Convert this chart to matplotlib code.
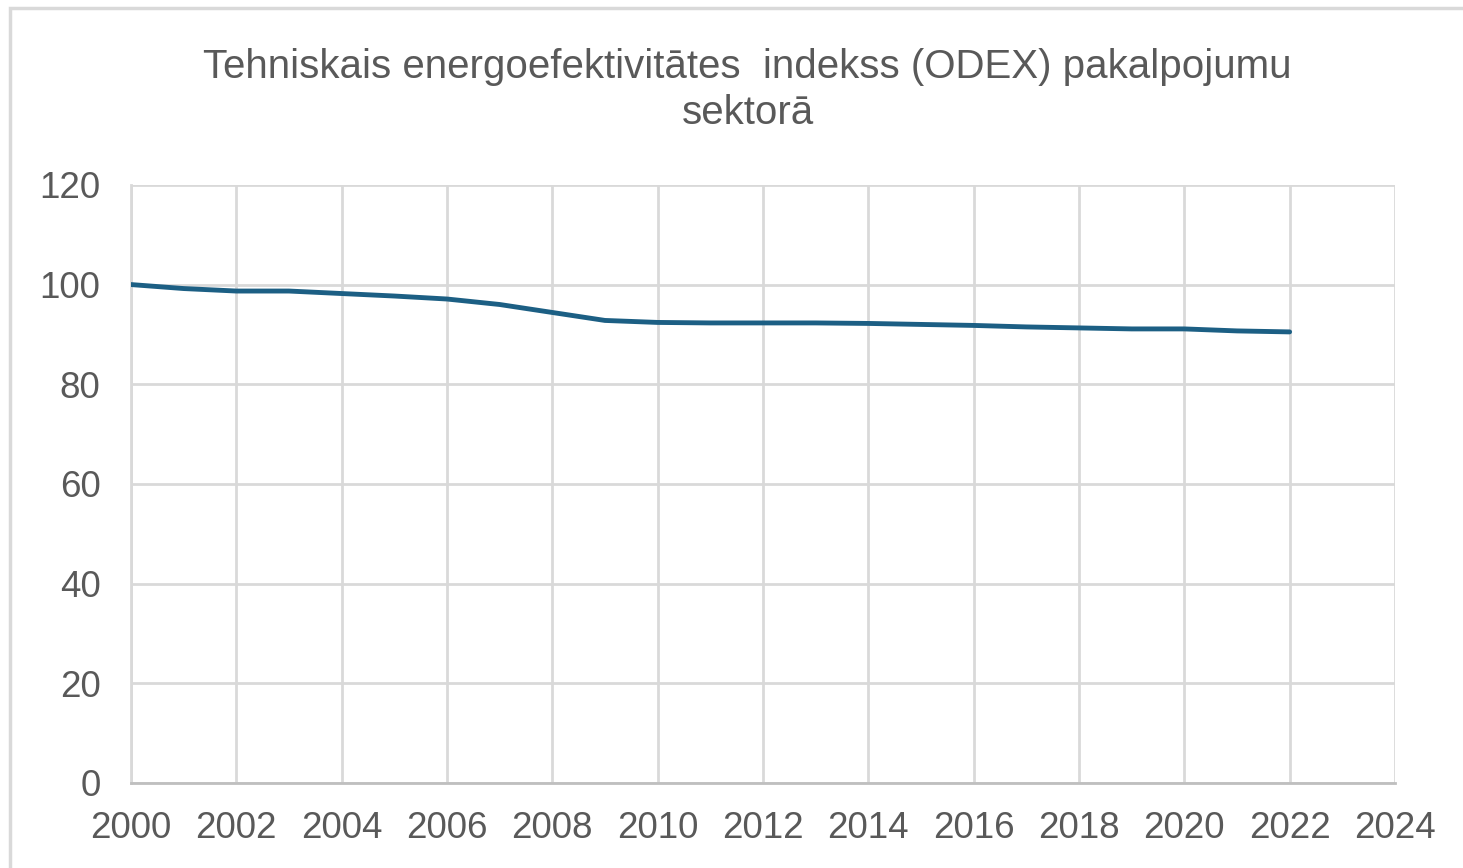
import matplotlib
matplotlib.use("Agg")
import matplotlib.pyplot as plt
from matplotlib.patches import Rectangle

plt.rcParams['font.family'] = ['Liberation Sans', 'DejaVu Sans']

# ODEX index, services sector (2000 = 100)
years = list(range(2000, 2023))
odex = [100.0, 99.2, 98.7, 98.7, 98.2, 97.7, 97.1, 96.0, 94.4, 92.8,
        92.4, 92.3, 92.3, 92.3, 92.2, 92.0, 91.8, 91.5, 91.3, 91.1,
        91.1, 90.7, 90.5]
x_ticks = list(range(2000, 2025, 2))
y_ticks = list(range(0, 121, 20))
title = "Tehniskais energoefektivitātes  indekss (ODEX) pakalpojumu\nsektorā"

text_col = '#595959'
grid_col = '#d9d9d9'
line_col = '#1c5f84'

fig = plt.figure(figsize=(14.63, 8.68), dpi=100)
ax = fig.add_axes([0.0895, 0.098, 0.864, 0.689])

# chart area border
fig.patches.append(Rectangle((10 / 1463, -0.1), 1.2, 1.1 - 8 / 868,
                             transform=fig.transFigure, fill=False,
                             edgecolor=grid_col, linewidth=2.5))

ax.plot(years, odex, color=line_col, linewidth=3.5,
        solid_joinstyle='round', solid_capstyle='round', zorder=3)

ax.set_xlim(2000, 2024)
ax.set_ylim(0, 120)
ax.set_xticks(x_ticks)
ax.set_yticks(y_ticks)
ax.grid(True, color=grid_col, linewidth=2)
ax.set_axisbelow(True)
for s in ['top', 'right']:
    ax.spines[s].set_visible(False)
ax.spines['left'].set_color(grid_col)
ax.spines['left'].set_linewidth(2)
ax.spines['bottom'].set_color('#bfbfbf')
ax.spines['bottom'].set_linewidth(2)
ax.tick_params(length=0, labelsize=26.5, labelcolor=text_col)
ax.tick_params(axis='x', pad=20)
ax.tick_params(axis='y', pad=22)

fig.text(0.511, 0.896, title, ha='center', va='center', fontsize=29,
         color=text_col, linespacing=1.28)

fig.savefig("out.png", dpi=100)
